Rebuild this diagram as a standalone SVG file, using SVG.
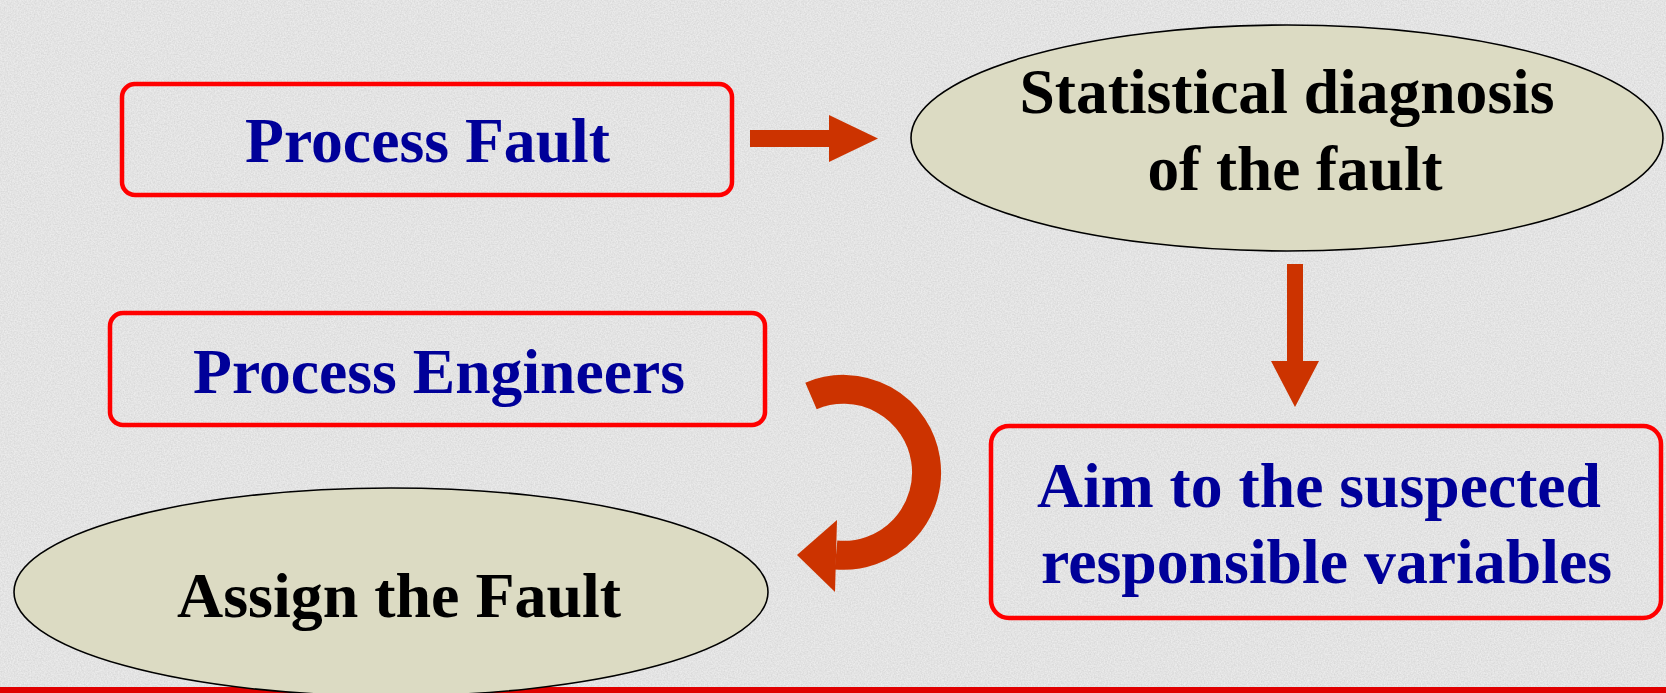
<svg xmlns="http://www.w3.org/2000/svg" width="1666" height="693" viewBox="0 0 1666 693">
<style>
.box{fill:none;stroke:#FF0000;stroke-width:4.5}
.ell{fill:#DCDBC3;stroke:#000;stroke-width:1.6}
.t{font-family:"Liberation Serif","Times New Roman",serif;font-weight:bold;font-size:64px}
.blue{fill:#000099}
.blk{fill:#000}
.arr{fill:#CC3300}
</style>
<defs>
<filter id="noise" x="0" y="0" width="100%" height="100%">
<feTurbulence type="fractalNoise" baseFrequency="0.7" numOctaves="2" seed="3" result="n"/>
<feColorMatrix type="matrix" values="0 0 0 0 0.6  0 0 0 0 0.6  0 0 0 0 0.6  0 0 0 -1.6 1.25"/>
</filter>
</defs>
<rect x="0" y="0" width="1666" height="693" fill="#ECECEC"/>
<rect x="0" y="0" width="1666" height="693" filter="url(#noise)" opacity="0.6"/>
<rect x="0" y="687" width="1666" height="6" fill="#E00000"/>

<g id="connectors">
<path class="arr" d="M750 130 H829 V115 L878 138.5 L829 162 V147 H750 Z"/>
<path class="arr" d="M1287 264 H1303 V361 H1319 L1295 407 L1271 361 H1287 Z"/>
<path d="M811 396 A83 83 0 1 1 836 555" fill="none" stroke="#CC3300" stroke-width="29"/>
<polygon class="arr" points="837,520 835,592 797,555"/>
</g>

<g id="process-fault">
<rect class="box" x="122" y="84" width="610" height="111" rx="13"/>
<text class="t blue" x="245" y="162" textLength="365" lengthAdjust="spacingAndGlyphs">Process Fault</text>
</g>

<g id="statistical-diagnosis">
<ellipse class="ell" cx="1287" cy="138" rx="376" ry="113"/>
<text class="t blk" x="1287" y="113" text-anchor="middle" textLength="535" lengthAdjust="spacingAndGlyphs">Statistical diagnosis</text>
<text class="t blk" x="1295" y="190" text-anchor="middle" textLength="295" lengthAdjust="spacingAndGlyphs">of the fault</text>
</g>

<g id="aim-variables">
<rect class="box" x="991" y="426" width="670" height="192" rx="18"/>
<text class="t blue" x="1037" y="507" textLength="564" lengthAdjust="spacingAndGlyphs">Aim to the suspected</text>
<text class="t blue" x="1041" y="583" textLength="571" lengthAdjust="spacingAndGlyphs">responsible variables</text>
</g>

<g id="process-engineers">
<rect class="box" x="110" y="313" width="655" height="112" rx="13"/>
<text class="t blue" x="193" y="393" textLength="492" lengthAdjust="spacingAndGlyphs">Process Engineers</text>
</g>

<g id="assign-fault">
<ellipse class="ell" cx="391" cy="592" rx="377" ry="104"/>
<text class="t blk" x="177" y="617" textLength="444" lengthAdjust="spacingAndGlyphs">Assign the Fault</text>
</g>
</svg>
